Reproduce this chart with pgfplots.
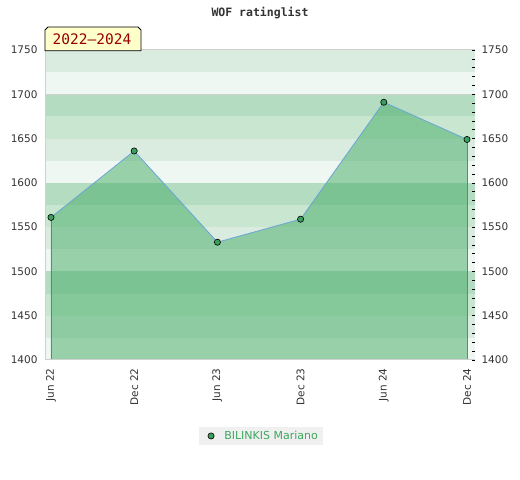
\documentclass[border=0pt]{standalone}
\usepackage{fontspec}
\setmainfont{DejaVu Sans}
\newfontfamily\monofont{DejaVu Sans Mono}
\usepackage{pgfplots}
\pgfplotsset{compat=1.18}
\definecolor{bandVL}{HTML}{EEF7F1}
\definecolor{bandL}{HTML}{DAECE0}
\definecolor{bandML}{HTML}{C8E6D0}
\definecolor{bandM}{HTML}{B3DCC0}
\definecolor{areagreen}{RGB}{68,171,101}
\definecolor{edgegreen}{HTML}{3AA35A}
\definecolor{linblue}{HTML}{6AA5D8}
\definecolor{mkgreen}{HTML}{3A9E5C}
\definecolor{labgray}{HTML}{333333}
\definecolor{framegray}{HTML}{D0D0D0}
\definecolor{legbg}{HTML}{F0F0F0}
\definecolor{legtext}{HTML}{3DA85F}
\definecolor{boxfill}{HTML}{FFFFCC}
\definecolor{boxtext}{HTML}{990000}
\begin{document}
\begin{tikzpicture}
\path[use as bounding box] (0,0) rectangle (520bp,480bp);
\begin{axis}[
  at={(45bp,120bp)}, anchor=south west, scale only axis,
  width=430bp, height=310bp,
  xmin=-0.072, xmax=5.096, ymin=1400, ymax=1750,
  axis line style={draw=none},
  major tick length=0pt,
  ytick={1400,1450,...,1750},
  xtick={0,...,5},
  xticklabels={Jun 22,Dec 22,Jun 23,Dec 23,Jun 24,Dec 24},
  x tick label style={rotate=90, anchor=east, xshift=-5bp},
  y tick label style={xshift=-4bp},
  tick label style={font=\fontsize{10.5bp}{12bp}\selectfont, text=labgray},
  /pgf/number format/assume math mode=true,
  /pgf/number format/1000 sep={},
  legend style={at={(0.502,-0.245)}, anchor=center, fill=legbg, draw=none,
    font=\fontsize{11bp}{13bp}\selectfont, text=legtext, inner xsep=3bp, inner ysep=2bp},
  legend cell align=left,
]
\fill[bandVL] (axis cs:-1,1400) rectangle (axis cs:6,1425);
\fill[bandL]  (axis cs:-1,1425) rectangle (axis cs:6,1450);
\fill[bandML] (axis cs:-1,1450) rectangle (axis cs:6,1475);
\fill[bandM]  (axis cs:-1,1475) rectangle (axis cs:6,1500);
\fill[bandVL] (axis cs:-1,1500) rectangle (axis cs:6,1525);
\fill[bandL]  (axis cs:-1,1525) rectangle (axis cs:6,1550);
\fill[bandML] (axis cs:-1,1550) rectangle (axis cs:6,1575);
\fill[bandM]  (axis cs:-1,1575) rectangle (axis cs:6,1600);
\fill[bandVL] (axis cs:-1,1600) rectangle (axis cs:6,1625);
\fill[bandL]  (axis cs:-1,1625) rectangle (axis cs:6,1650);
\fill[bandML] (axis cs:-1,1650) rectangle (axis cs:6,1675);
\fill[bandM]  (axis cs:-1,1675) rectangle (axis cs:6,1700);
\fill[bandVL] (axis cs:-1,1700) rectangle (axis cs:6,1725);
\fill[bandL]  (axis cs:-1,1725) rectangle (axis cs:6,1750);
\draw[framegray, line width=0.8bp] (axis cs:-1,1700) -- (axis cs:6,1700);
\addplot[draw=none, fill=areagreen, fill opacity=0.5, forget plot]
  coordinates {(0,1561) (1,1636) (2,1533) (3,1559) (4,1691) (5,1649)} \closedcycle;
\addplot[edgegreen, line width=0.8bp, forget plot] coordinates {(0,1400) (0,1561)};
\addplot[edgegreen, line width=0.8bp, forget plot] coordinates {(5,1400) (5,1649)};
\addplot[linblue, line width=0.8bp, mark=*, mark size=3.1bp,
  mark options={fill=mkgreen, draw=black, line width=0.6bp}, forget plot]
  coordinates {(0,1561) (1,1636) (2,1533) (3,1559) (4,1691) (5,1649)};
\addlegendimage{legend image code/.code={%
  \path (0bp,0bp) (20bp,0bp);
  \fill[mkgreen, draw=black, line width=0.6bp] (9bp,0bp) circle (3.1bp);}}
\addlegendentry{BILINKIS Mariano}
\draw[framegray, line width=1bp] (rel axis cs:0,1) -- (rel axis cs:1,1);
\draw[framegray, line width=1bp] (rel axis cs:0,1) -- (rel axis cs:0,0) -- (rel axis cs:1,0);
\end{axis}
\begin{axis}[
  at={(45bp,120bp)}, anchor=south west, scale only axis,
  width=430bp, height=310bp,
  xmin=-0.072, xmax=5.096, ymin=1400, ymax=1750,
  axis x line=none, axis y line*=right,
  axis line style={draw=none},
  ytick={1400,1450,...,1750},
  minor y tick num=4,
  tick align=inside,
  major tick length=3.5bp, minor tick length=3.5bp,
  tick style={black, line width=0.7bp},
  yticklabel style={font=\fontsize{10.5bp}{12bp}\selectfont, text=labgray, xshift=3bp},
  /pgf/number format/assume math mode=true,
  /pgf/number format/1000 sep={},
]
\end{axis}
\node[font=\monofont\bfseries\fontsize{11.5bp}{13bp}\selectfont, text=labgray] at (260bp,467bp) {WOF ratinglist};
\draw[black, line width=0.8bp, fill=boxfill] (45bp,429.3bp) -- (45bp,450bp) -- (48bp,453bp) -- (138bp,453bp) -- (141bp,450bp) -- (141bp,429.3bp) -- cycle;
\node[font=\monofont\fontsize{14.5bp}{16bp}\selectfont, text=boxtext] at (92bp,440.5bp) {2022–2024};
\end{tikzpicture}
\end{document}
